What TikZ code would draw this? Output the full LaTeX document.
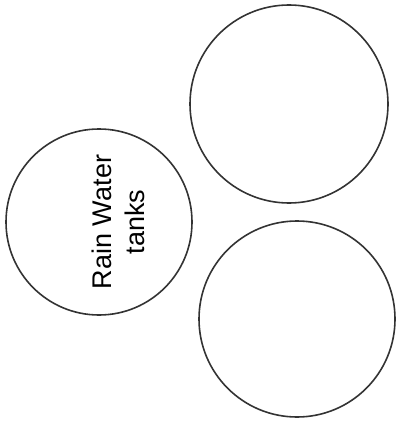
\documentclass[tikz,border=0pt]{standalone}
\usepackage{fontspec}
\setmainfont{Liberation Sans}
\usetikzlibrary{positioning}

\begin{document}
\begin{tikzpicture}[
x=1pt,y=-1pt,
tank/.style={draw=black!80,line width=1.6pt,circle,inner sep=0pt},
lbl/.style={align=center,rotate=90,font=\fontsize{27}{33}\selectfont}
]
\useasboundingbox (0,0) rectangle (398,425);

\node[tank,minimum size=186pt] (rain) at (99,222) {};
\node[tank,minimum size=198pt] (top) at (289,104) {};
\node[tank,minimum size=196pt] (bottom) at (297,319) {};

\node[lbl] (rainlbl) at (118,222) {Rain Water\\tanks};

\end{tikzpicture}
\end{document}
